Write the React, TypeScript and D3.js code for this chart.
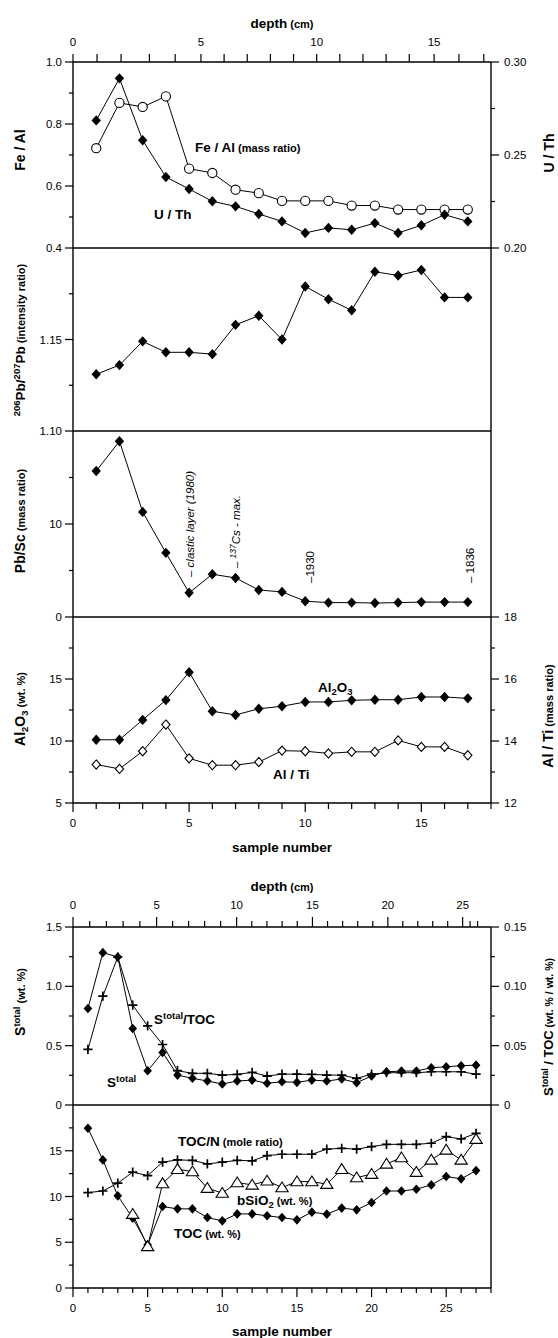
import React from "react";
import * as d3 from "d3";

// ---------- data: upper figure (samples 1..17) ----------
const topSamples = d3.range(1, 18);
const feAl = [0.722, 0.868, 0.855, 0.889, 0.656, 0.642, 0.588, 0.577, 0.552, 0.552, 0.552, 0.537, 0.537, 0.524, 0.524, 0.524, 0.524];
const uTh = [0.2686, 0.2912, 0.2579, 0.2382, 0.2317, 0.2251, 0.2224, 0.2183, 0.2143, 0.2081, 0.2108, 0.2098, 0.2134, 0.2081, 0.2122, 0.2179, 0.2143];
const pbRatio = [1.131, 1.136, 1.149, 1.143, 1.143, 1.142, 1.158, 1.163, 1.15, 1.179, 1.172, 1.166, 1.187, 1.185, 1.188, 1.173, 1.173];
const pbSc = [15.7, 18.9, 11.3, 6.9, 2.6, 4.6, 4.2, 2.9, 2.7, 1.7, 1.55, 1.55, 1.5, 1.55, 1.6, 1.6, 1.6];
const al2o3 = [10.1, 10.1, 11.7, 13.3, 15.55, 12.4, 12.1, 12.6, 12.8, 13.15, 13.15, 13.28, 13.33, 13.33, 13.55, 13.55, 13.44];
const alTi = [13.24, 13.1, 13.67, 14.53, 13.44, 13.22, 13.22, 13.32, 13.69, 13.67, 13.6, 13.65, 13.65, 14.02, 13.81, 13.81, 13.54];

// depth (cm) calibration of the upper figure: depth -> sample position
const topDepthKnots = [0, 2, 3, 5, 14, 17];
const topDepthAtSample = [0, 2.07, 3.29, 5.51, 14.48, 17.69];
const topDepthTicks = d3.range(0, 18);
const topDepthLabels = [0, 5, 10, 15];

// ---------- data: lower figure (samples 1..27) ----------
const botSamples = d3.range(1, 28);
const sTotal = [0.813, 1.284, 1.247, 0.645, 0.288, 0.443, 0.252, 0.225, 0.202, 0.177, 0.202, 0.21, 0.183, 0.196, 0.191, 0.21, 0.202, 0.219, 0.188, 0.244, 0.28, 0.286, 0.286, 0.314, 0.322, 0.331, 0.336];
const sTotToc = [0.0468, 0.0917, 0.1247, 0.0841, 0.0667, 0.051, 0.0289, 0.0267, 0.0267, 0.0252, 0.0258, 0.0275, 0.0244, 0.026, 0.026, 0.0258, 0.0252, 0.0252, 0.0224, 0.026, 0.0272, 0.0272, 0.0272, 0.028, 0.028, 0.028, 0.026];
const toc = [17.46, 14.0, 10.07, 7.64, 4.72, 8.9, 8.65, 8.65, 7.7, 7.34, 8.1, 8.1, 7.89, 7.7, 7.45, 8.29, 8.07, 8.73, 8.54, 9.34, 10.6, 10.6, 10.8, 11.27, 12.18, 11.93, 12.83];
const tocN = [10.43, 10.6, 11.46, 12.66, 12.29, 13.75, 14.0, 13.95, 13.56, 13.75, 13.95, 13.9, 14.47, 14.62, 14.62, 14.62, 15.17, 15.27, 15.17, 15.45, 15.7, 15.7, 15.7, 15.82, 16.54, 16.29, 16.9];
const bSiO2Samples = d3.range(4, 28);
const bSiO2 = [8.07, 4.54, 11.42, 12.98, 12.73, 10.91, 10.37, 11.52, 11.27, 11.71, 10.98, 11.63, 11.63, 11.35, 12.98, 12.07, 12.44, 13.56, 14.25, 12.66, 14.0, 15.09, 14.0, 16.26];

const botDepthKnots = [0, 5, 10, 15, 20, 25, 27];
const botDepthAtSample = [0, 5.6, 10.96, 16.04, 21.09, 26.1, 27.1];
const botDepthTicks = d3.range(0, 28);
const botDepthLabels = [0, 5, 10, 15, 20, 25];

const FONT = "'Liberation Sans', Arial, Helvetica, sans-serif";
const X0 = 73;
const X1 = 491;

type Tick = { v: number; label?: string };

function LeftAxisTicks({ scale, major, minor }: { scale: any; major: Tick[]; minor: number[] }) {
  return (
    <g>
      {major.map((t, i) => (
        <g key={"M" + i}>
          <line x1={X0 - 8} x2={X0} y1={scale(t.v)} y2={scale(t.v)} stroke="#000" strokeWidth={1.2} />
          {t.label !== undefined && (
            <text x={X0 - 11} y={scale(t.v) + 4} textAnchor="end" fontSize={11.5}>{t.label}</text>
          )}
        </g>
      ))}
      {minor.map((v, i) => (
        <line key={"m" + i} x1={X0 - 4} x2={X0} y1={scale(v)} y2={scale(v)} stroke="#000" strokeWidth={1.2} />
      ))}
    </g>
  );
}

function RightAxisTicks({ scale, major, minor }: { scale: any; major: Tick[]; minor: number[] }) {
  return (
    <g>
      {major.map((t, i) => (
        <g key={"M" + i}>
          <line x1={X1} x2={X1 + 8} y1={scale(t.v)} y2={scale(t.v)} stroke="#000" strokeWidth={1.2} />
          {t.label !== undefined && (
            <text x={X1 + 13} y={scale(t.v) + 4} textAnchor="start" fontSize={11.5}>{t.label}</text>
          )}
        </g>
      ))}
      {minor.map((v, i) => (
        <line key={"m" + i} x1={X1} x2={X1 + 4} y1={scale(v)} y2={scale(v)} stroke="#000" strokeWidth={1.2} />
      ))}
    </g>
  );
}

const diamondPath = (r: number) => `M0,${-r}L${r * 0.9},0L0,${r}L${-r * 0.9},0Z`;
const crossPath = (r: number) => `M${-r},0H${r}M0,${-r}V${r}`;
const trianglePath = (r: number) => `M0,${-r}L${r * 1.1},${r * 0.75}L${-r * 1.1},${r * 0.75}Z`;

function Series({ xs, ys, x, y, marker }: { xs: number[]; ys: number[]; x: any; y: any; marker: string }) {
  const line = d3
    .line<number>()
    .x((_, i) => x(xs[i]))
    .y((d) => y(d));
  const pts = ys.map((d, i) => [x(xs[i]), y(d)] as [number, number]);
  return (
    <g>
      <path d={line(ys) || ""} fill="none" stroke="#000" strokeWidth={1} />
      {pts.map(([px, py], i) => {
        const tr = `translate(${px},${py})`;
        if (marker === "diamond") return <path key={i} transform={tr} d={diamondPath(5.2)} fill="#000" />;
        if (marker === "smalldiamond") return <path key={i} transform={tr} d={diamondPath(4.8)} fill="#000" />;
        if (marker === "opendiamond") return <path key={i} transform={tr} d={diamondPath(4.6)} fill="#fff" stroke="#000" strokeWidth={1.1} />;
        if (marker === "circle") return <circle key={i} cx={px} cy={py} r={4.6} fill="#fff" stroke="#000" strokeWidth={1.1} />;
        if (marker === "cross") return <path key={i} transform={tr} d={crossPath(4.6)} stroke="#000" strokeWidth={1.7} fill="none" />;
        if (marker === "triangle") return <path key={i} transform={tr} d={trianglePath(5.6)} fill="#fff" stroke="#000" strokeWidth={1.1} />;
        return null;
      })}
    </g>
  );
}

export default function App() {
  // ---------- upper figure scales ----------
  const xTop = d3.scaleLinear().domain([0, 18]).range([X0, X1]);
  const depthTop = d3.scaleLinear().domain(topDepthKnots).range(topDepthAtSample.map((s) => xTop(s)));
  const P = [62, 248, 431, 617, 803];
  const y1L = d3.scaleLinear().domain([0.4, 1.0]).range([P[1], P[0]]);
  const y1R = d3.scaleLinear().domain([0.2, 0.3]).range([P[1], P[0]]);
  const y2 = d3.scaleLinear().domain([1.1, 1.2]).range([P[2], P[1]]);
  const y3 = d3.scaleLinear().domain([0, 20]).range([P[3], P[2]]);
  const y4L = d3.scaleLinear().domain([5, 20]).range([P[4], P[3]]);
  const y4R = d3.scaleLinear().domain([12, 18]).range([P[4], P[3]]);

  // ---------- lower figure scales ----------
  const xBot = d3.scaleLinear().domain([0, 28]).range([X0, X1]);
  const depthBot = d3.scaleLinear().domain(botDepthKnots).range(botDepthAtSample.map((s) => xBot(s)));
  const Q = [927, 1105, 1288];
  const yb1L = d3.scaleLinear().domain([0, 1.5]).range([Q[1], Q[0]]);
  const yb1R = d3.scaleLinear().domain([0, 0.15]).range([Q[1], Q[0]]);
  const yb2 = d3.scaleLinear().domain([0, 20]).range([Q[2], Q[1]]);

  const ax = { stroke: "#000", strokeWidth: 1.4 };

  return (
    <svg
      width={558}
      height={1338}
      style={{ position: "absolute", left: 0, top: 0, background: "#fff" }}
      fontFamily={FONT}
    >
      <rect x={0} y={0} width={558} height={1338} fill="#fff" />

      {/* ================= UPPER FIGURE ================= */}
      <text x={(X0 + X1) / 2} y={28} textAnchor="middle" fontWeight="bold" fontSize={13.5}>
        depth<tspan fontSize={11}> (cm)</tspan>
      </text>
      {topDepthTicks.map((d) => (
        <line key={"td" + d} x1={depthTop(d)} x2={depthTop(d)} y1={P[0] - 8} y2={P[0]} stroke="#000" strokeWidth={1.2} />
      ))}
      {topDepthLabels.map((d) => (
        <text key={"tdl" + d} x={depthTop(d)} y={46} textAnchor="middle" fontSize={11.5}>{d}</text>
      ))}

      {/* frame */}
      <line x1={X0} x2={X0} y1={P[0]} y2={P[4]} {...ax} />
      <line x1={X1} x2={X1} y1={P[0]} y2={P[4]} {...ax} />
      {P.map((p, i) => (
        <line key={"pl" + i} x1={X0} x2={X1} y1={p} y2={p} {...ax} />
      ))}

      {/* bottom sample axis */}
      {d3.range(0, 19).map((s) => (
        <line key={"bs" + s} x1={xTop(s)} x2={xTop(s)} y1={P[4]} y2={P[4] + (s % 5 === 0 ? 9 : 6)} stroke="#000" strokeWidth={1.2} />
      ))}
      {[0, 5, 10, 15].map((s) => (
        <text key={"bsl" + s} x={xTop(s)} y={P[4] + 24} textAnchor="middle" fontSize={11.5}>{s}</text>
      ))}
      <text x={(X0 + X1) / 2} y={852} textAnchor="middle" fontWeight="bold" fontSize={13.5}>sample number</text>

      {/* left / right ticks */}
      <LeftAxisTicks scale={y1L} major={[{ v: 0.4, label: "0.4" }, { v: 0.6, label: "0.6" }, { v: 0.8, label: "0.8" }, { v: 1.0, label: "1.0" }]} minor={[0.5, 0.7, 0.9]} />
      <RightAxisTicks scale={y1R} major={[{ v: 0.2, label: "0.20" }, { v: 0.25, label: "0.25" }, { v: 0.3, label: "0.30" }]} minor={[0.225, 0.275]} />
      <LeftAxisTicks scale={y2} major={[{ v: 1.1, label: "1.10" }, { v: 1.15, label: "1.15" }]} minor={[1.125, 1.175]} />
      <LeftAxisTicks scale={y3} major={[{ v: 0, label: "0" }, { v: 10, label: "10" }]} minor={[5, 15]} />
      <LeftAxisTicks scale={y4L} major={[{ v: 5, label: "5" }, { v: 10, label: "10" }, { v: 15, label: "15" }]} minor={[7.5, 12.5, 17.5]} />
      <RightAxisTicks scale={y4R} major={[{ v: 12, label: "12" }, { v: 14, label: "14" }, { v: 16, label: "16" }, { v: 18, label: "18" }]} minor={[13, 15, 17]} />

      {/* axis titles */}
      <text transform={`translate(25,150) rotate(-90)`} textAnchor="middle" fontWeight="bold" fontSize={14}>Fe / Al</text>
      <text transform={`translate(554,153) rotate(-90)`} textAnchor="middle" fontWeight="bold" fontSize={14}>U / Th</text>
      <text transform={`translate(25,340) rotate(-90)`} textAnchor="middle" fontWeight="bold" fontSize={13.5}>
        <tspan fontSize={9.5} dy={-5}>206</tspan>
        <tspan dy={5}>Pb/</tspan>
        <tspan fontSize={9.5} dy={-5}>207</tspan>
        <tspan dy={5}>Pb</tspan>
        <tspan fontSize={11}> (intensity ratio)</tspan>
      </text>
      <text transform={`translate(25,521) rotate(-90)`} textAnchor="middle" fontWeight="bold" fontSize={14}>
        Pb/Sc<tspan fontSize={11}> (mass ratio)</tspan>
      </text>
      <text transform={`translate(25,709) rotate(-90)`} textAnchor="middle" fontWeight="bold" fontSize={14}>
        Al<tspan fontSize={9.5} dy={3}>2</tspan>
        <tspan dy={-3}>O</tspan>
        <tspan fontSize={9.5} dy={3}>3</tspan>
        <tspan fontSize={11} dy={-3}> (wt. %)</tspan>
      </text>
      <text transform={`translate(553,716) rotate(-90)`} textAnchor="middle" fontWeight="bold" fontSize={14}>
        Al / Ti<tspan fontSize={11}> (mass ratio)</tspan>
      </text>

      {/* series */}
      <Series xs={topSamples} ys={feAl} x={xTop} y={y1L} marker="circle" />
      <Series xs={topSamples} ys={uTh} x={xTop} y={y1R} marker="diamond" />
      <Series xs={topSamples} ys={pbRatio} x={xTop} y={y2} marker="diamond" />
      <Series xs={topSamples} ys={pbSc} x={xTop} y={y3} marker="diamond" />
      <Series xs={topSamples} ys={al2o3} x={xTop} y={y4L} marker="diamond" />
      <Series xs={topSamples} ys={alTi} x={xTop} y={y4R} marker="opendiamond" />

      {/* in-plot labels */}
      <text x={195} y={152} fontWeight="bold" fontSize={13.5}>
        Fe / Al<tspan fontSize={11}>{"  (mass ratio)"}</tspan>
      </text>
      <text x={154} y={219} fontWeight="bold" fontSize={13.5}>U / Th</text>
      <text x={318} y={692} fontWeight="bold" fontSize={13.5}>
        Al<tspan fontSize={9.5} dy={3}>2</tspan>
        <tspan dy={-3}>O</tspan>
        <tspan fontSize={9.5} dy={3}>3</tspan>
      </text>
      <text x={273} y={779} fontWeight="bold" fontSize={13.5}>Al / Ti</text>

      {/* annotations */}
      <text transform={`translate(${xTop(5) + 5},577) rotate(-90)`} fontStyle="italic" fontSize={11.5}>– clastic layer (1980)</text>
      <text transform={`translate(${xTop(7) + 4},568) rotate(-90)`} fontStyle="italic" fontSize={11.5}>
        {"– "}
        <tspan fontSize={8.5} dy={-4}>137</tspan>
        <tspan dy={4}>Cs - max.</tspan>
      </text>
      <text transform={`translate(${xTop(10) + 9},583) rotate(-90)`} fontSize={11.5}>–1930</text>
      <text transform={`translate(${xTop(17) + 6},583) rotate(-90)`} fontSize={11.5}>– 1836</text>

      {/* ================= LOWER FIGURE ================= */}
      <text x={(X0 + X1) / 2} y={891} textAnchor="middle" fontWeight="bold" fontSize={13.5}>
        depth<tspan fontSize={11}> (cm)</tspan>
      </text>
      {botDepthTicks.map((d) => (
        <line key={"bd" + d} x1={depthBot(d)} x2={depthBot(d)} y1={Q[0] - (d % 5 === 0 ? 10 : 6)} y2={Q[0]} stroke="#000" strokeWidth={1.2} />
      ))}
      {botDepthLabels.map((d) => (
        <text key={"bdl" + d} x={depthBot(d)} y={909} textAnchor="middle" fontSize={11.5}>{d}</text>
      ))}

      <line x1={X0} x2={X0} y1={Q[0]} y2={Q[2]} {...ax} />
      <line x1={X1} x2={X1} y1={Q[0]} y2={Q[2]} {...ax} />
      {Q.map((q, i) => (
        <line key={"ql" + i} x1={X0} x2={X1} y1={q} y2={q} {...ax} />
      ))}

      {d3.range(0, 29).map((s) => (
        <line key={"bbs" + s} x1={xBot(s)} x2={xBot(s)} y1={Q[2]} y2={Q[2] + (s % 5 === 0 ? 9 : 5)} stroke="#000" strokeWidth={1.2} />
      ))}
      {[0, 5, 10, 15, 20, 25].map((s) => (
        <text key={"bbsl" + s} x={xBot(s)} y={1312} textAnchor="middle" fontSize={11.5}>{s}</text>
      ))}
      <text x={(X0 + X1) / 2} y={1336} textAnchor="middle" fontWeight="bold" fontSize={13.5}>sample number</text>

      <LeftAxisTicks scale={yb1L} major={[{ v: 0, label: "0" }, { v: 0.5, label: "0.5" }, { v: 1.0, label: "1.0" }, { v: 1.5, label: "1.5" }]} minor={[0.25, 0.75, 1.25]} />
      <RightAxisTicks scale={yb1R} major={[{ v: 0, label: "0" }, { v: 0.05, label: "0.05" }, { v: 0.1, label: "0.10" }, { v: 0.15, label: "0.15" }]} minor={[0.025, 0.075, 0.125]} />
      <LeftAxisTicks scale={yb2} major={[{ v: 0, label: "0" }, { v: 5, label: "5" }, { v: 10, label: "10" }, { v: 15, label: "15" }]} minor={[2.5, 7.5, 12.5, 17.5]} />

      <text transform={`translate(25,1002) rotate(-90)`} textAnchor="middle" fontWeight="bold" fontSize={14}>
        S<tspan fontSize={9.5} dy={-5}>total</tspan>
        <tspan fontSize={11} dy={5}> (wt. %)</tspan>
      </text>
      <text transform={`translate(553,1027) rotate(-90)`} textAnchor="middle" fontWeight="bold" fontSize={13}>
        S<tspan fontSize={9} dy={-5}>total</tspan>
        <tspan dy={5}> / TOC</tspan>
        <tspan fontSize={10.5}> (wt. % / wt. %)</tspan>
      </text>

      <Series xs={botSamples} ys={sTotToc} x={xBot} y={yb1R} marker="cross" />
      <Series xs={botSamples} ys={sTotal} x={xBot} y={yb1L} marker="smalldiamond" />
      <Series xs={botSamples} ys={tocN} x={xBot} y={yb2} marker="cross" />
      <Series xs={botSamples} ys={toc} x={xBot} y={yb2} marker="smalldiamond" />
      <Series xs={bSiO2Samples} ys={bSiO2} x={xBot} y={yb2} marker="triangle" />

      <text x={154} y={1024} fontWeight="bold" fontSize={13.5}>
        S<tspan fontSize={9.5} dy={-5}>total</tspan>
        <tspan dy={5}>/TOC</tspan>
      </text>
      <text x={107} y={1087} fontWeight="bold" fontSize={13.5}>
        S<tspan fontSize={9.5} dy={-5}>total</tspan>
      </text>
      <text x={178} y={1146} fontWeight="bold" fontSize={13.5}>
        TOC/N<tspan fontSize={11}> (mole ratio)</tspan>
      </text>
      <text x={237} y={1205} fontWeight="bold" fontSize={13.5}>
        bSiO<tspan fontSize={9.5} dy={3}>2</tspan>
        <tspan fontSize={11} dy={-3}> (wt. %)</tspan>
      </text>
      <text x={174} y={1238} fontWeight="bold" fontSize={13.5}>
        TOC<tspan fontSize={11}> (wt. %)</tspan>
      </text>
    </svg>
  );
}
